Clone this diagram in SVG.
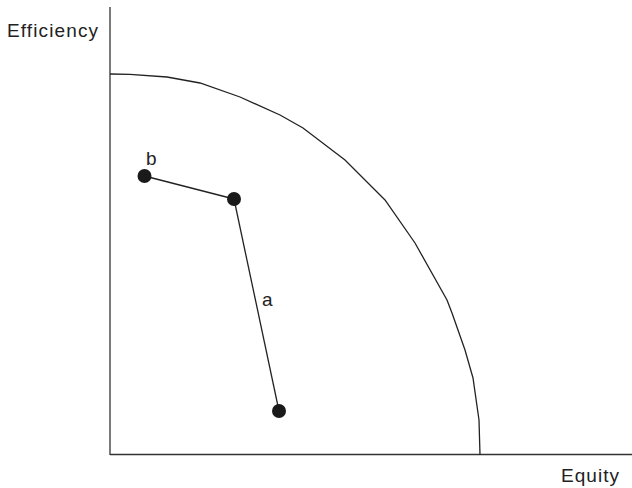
<svg xmlns="http://www.w3.org/2000/svg" width="632" height="488" viewBox="0 0 632 488">
<style>
.ax{stroke:#333;stroke-width:1.3;fill:none}
.ln{stroke:#222;stroke-width:1.3;fill:none}
.dot{fill:#1a1a1a}
.t{font-family:"Liberation Sans",Arial,sans-serif;font-size:19px;fill:#222}
</style>
<rect width="632" height="488" fill="#fff"/>
<g id="axes">
<line class="ax" x1="110" y1="7" x2="110" y2="455"/>
<line class="ax" x1="110" y1="454.5" x2="632" y2="454.5" stroke="#555"/>
</g>
<g id="frontier">
<polyline class="ln" points="110,74 130,74.4 167,77 200,83 240,97 280,115 303,128 345,160 385,200 415,243 447,300 452,313 465,350 473,378 479,420 480,455"/>
</g>
<g id="connectors">
<line class="ln" x1="144.5" y1="176" x2="234" y2="199"/>
<line class="ln" x1="234" y1="199" x2="279" y2="411"/>
</g>
<g id="node-b"><circle class="dot" cx="144.5" cy="176" r="7"/><text class="t" x="146" y="165">b</text></g>
<g id="node-mid"><circle class="dot" cx="234" cy="199" r="7"/></g>
<g id="node-a"><circle class="dot" cx="279" cy="411" r="7"/><text class="t" x="262" y="306">a</text></g>
<g id="labels">
<text class="t" x="7" y="37" textLength="91">Efficiency</text>
<text class="t" x="561" y="482" textLength="58">Equity</text>
</g>
</svg>
